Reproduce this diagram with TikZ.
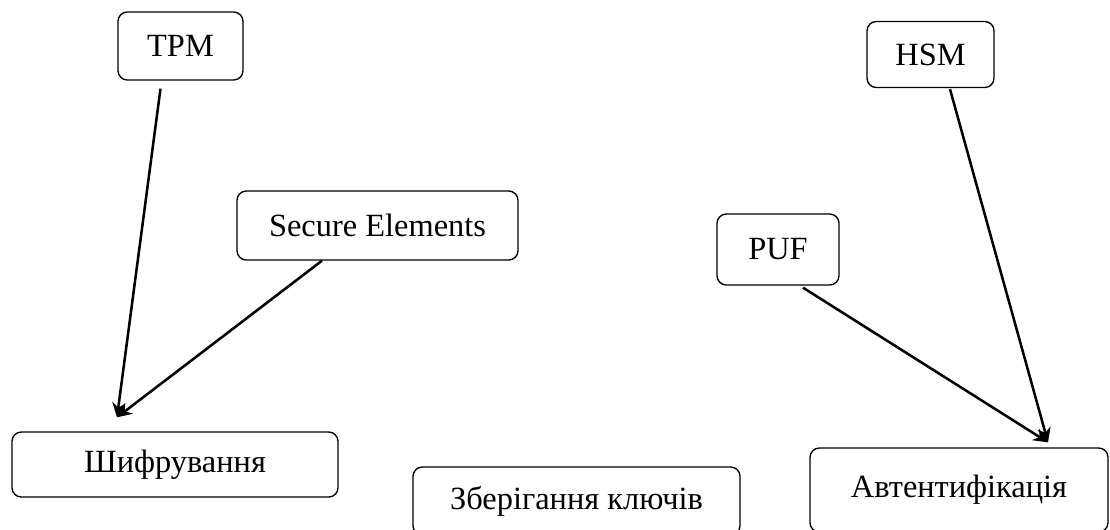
\documentclass[tikz,border=0pt]{standalone}
\usepackage{fontspec}
\setmainfont{Liberation Serif}
\usepackage{tikz}
\usepackage{xcolor}
\usetikzlibrary{arrows.meta,positioning,calc}
\definecolor{ink}{HTML}{000000}
\tikzset{
  card/.style={draw=ink,fill=white,line width=1pt,rounded corners=7pt,
               align=center,inner sep=0pt,font=\fontsize{24.3}{29}\selectfont},
  blackarr/.style={-{Stealth[length=11pt,width=10pt]},line width=1.9pt,
                   draw=ink}
}
\begin{document}
\begin{tikzpicture}[x=0.75pt,y=-0.75pt]
    \path[use as bounding box] (0,0) rectangle (1110,529);

    % hardware sources
    \node[card,minimum width=93.75pt,minimum height=51pt] (tpm) at (180.5,46) {TPM};
    \node[card,minimum width=210.75pt,minimum height=51.75pt] (se) at (377.5,225.5) {Secure Elements};
    \node[card,minimum width=95.25pt,minimum height=49.5pt] (hsm) at (930.5,54.5) {HSM};
    \node[card,minimum width=91.5pt,minimum height=53.25pt] (puf) at (778,249.5) {PUF};

    % functions
    \node[card,minimum width=244.5pt,minimum height=48.75pt] (shyfr) at (175,464.5) {Шифрування};
    \node[card,minimum width=245.25pt,minimum height=51pt] (keys) at (576.5,501) {Зберігання ключів};
    \node[card,minimum width=223.5pt,minimum height=63pt] (auth) at (959,490) {Автентифікація};

    \draw[blackarr] ($(tpm.south)+(-20,8)$) -- ($(shyfr.north)+(-58,-14)$);
    \draw[blackarr] ($(se.south)+(-55.5,0)$) -- ($(shyfr.north)+(-58,-14)$);
    \draw[blackarr] ($(hsm.south)+(19.5,1)$) -- ($(auth.north)+(89,-5)$);
    \draw[blackarr] ($(puf.south)+(25,2)$) -- ($(auth.north)+(89,-5)$);
  \end{tikzpicture}
\end{document}
